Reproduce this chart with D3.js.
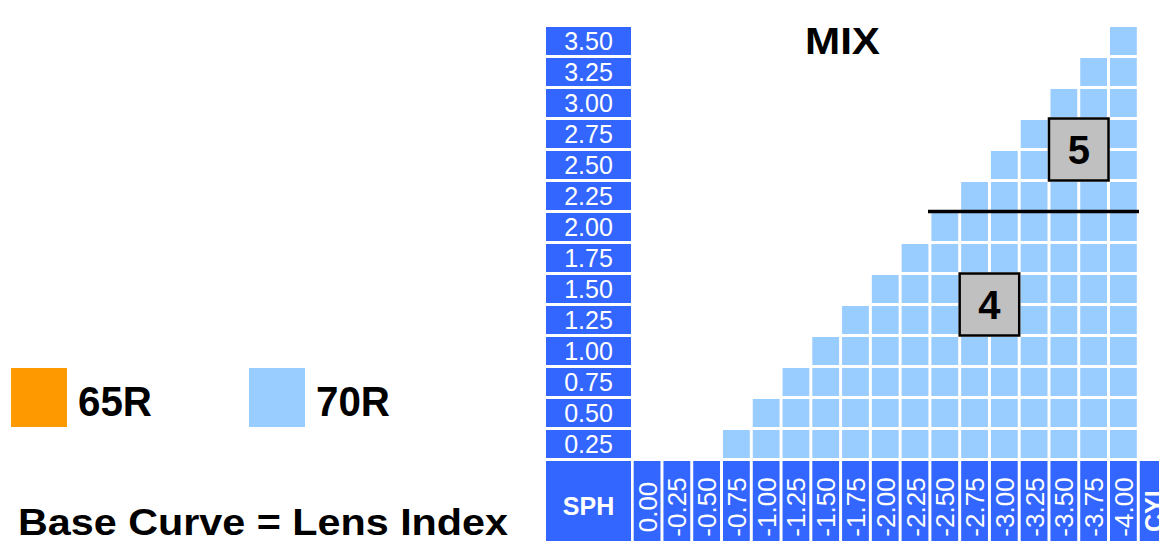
<!DOCTYPE html>
<html><head><meta charset="utf-8">
<script src="https://cdn.jsdelivr.net/npm/d3@7"></script>
<style>
body{margin:0;background:#fff;overflow:hidden;}
svg{display:block;font-family:"Liberation Sans",Arial,Helvetica,sans-serif;}
</style>
</head><body>
<svg id="chart" width="1159" height="541"></svg>
<script>
// ---- data ----
const sphValues = ["3.50","3.25","3.00","2.75","2.50","2.25","2.00","1.75","1.50","1.25","1.00","0.75","0.50","0.25"];
const cylValues = ["0.00","-0.25","-0.50","-0.75","-1.00","-1.25","-1.50","-1.75","-2.00","-2.25","-2.50","-2.75","-3.00","-3.25","-3.50","-3.75","-4.00"];
// first filled CYL column for each SPH row (filled through -4.00)
const rowSph      = ["0.25","0.50","0.75","1.00","1.25","1.50","1.75","2.00","2.25","2.50","2.75","3.00","3.25","3.50"];
const rowFirstCyl = ["-0.75","-1.00","-1.25","-1.50","-1.75","-2.00","-2.25","-2.50","-2.75","-3.00","-3.25","-3.50","-3.75","-4.00"];
const rowSeries   = ["70R","70R","70R","70R","70R","70R","70R","70R","70R","70R","70R","70R","70R","70R"];
const legendSeries = ["65R","70R"];
const legendColors = ["#FF9900","#99CCFF"];
const baseCurveLabels = ["4","5"];
const baseCurveCyl = [["-2.75","-3.00"],["-3.50","-3.75"]];
const baseCurveSph = [["1.50","1.25"],["2.75","2.50"]];
const dividerSph = ["2.25","2.00"];
const dividerCyl = ["-2.50","-4.00"];
const titleText = "MIX";
const footText = "Base Curve = Lens Index";

// ---- drawing ----
const svg = d3.select("#chart");
const labelBlue = "#3366FF";
const color = d3.scaleOrdinal().domain(legendSeries).range(legendColors);

const x = d3.scaleBand().domain([...cylValues, "CYL"])
  .range([632.2, 632.2 + 18 * 29.77]).paddingInner(0.1).paddingOuter(0.05);
const y = d3.scaleBand().domain([...sphValues, "SPH"])
  .range([25.5, 25.5 + 15 * 31]).paddingInner(3 / 31).paddingOuter(1.5 / 31);
const bw = x.bandwidth(), bh = y.bandwidth();

// row label cells
const rowG = svg.append("g");
rowG.selectAll("rect").data(sphValues).join("rect")
  .attr("x", 546).attr("width", 85)
  .attr("y", d => y(d)).attr("height", bh).attr("fill", labelBlue);
rowG.selectAll("text").data(sphValues).join("text")
  .attr("x", 588.5).attr("y", d => y(d) + bh / 2 + 9)
  .attr("text-anchor", "middle").attr("fill", "#fff").attr("font-size", 25)
  .text(d => d);

// header row
const hy = y("SPH"), hh = 80;
svg.append("rect").attr("x", 546).attr("width", 85).attr("y", hy).attr("height", hh).attr("fill", labelBlue);
svg.append("text").attr("x", 588.5).attr("y", 515).attr("text-anchor", "middle")
  .attr("fill", "#fff").attr("font-size", 25).attr("font-weight", "bold").text("SPH");

const colG = svg.append("g");
const colKeys = [...cylValues, "CYL"];
colG.selectAll("rect").data(colKeys).join("rect")
  .attr("x", d => x(d)).attr("width", d => d === "CYL" ? 40 : bw)
  .attr("y", hy).attr("height", hh).attr("fill", labelBlue);
colG.selectAll("text").data(colKeys).join("text")
  .attr("transform", d => `translate(${x(d) + bw / 2 + 9.5},507) rotate(-90)`)
  .attr("text-anchor", "middle").attr("fill", "#fff")
  .attr("font-size", d => d === "CYL" ? 25 : 26)
  .attr("font-weight", d => d === "CYL" ? "bold" : "normal")
  .text(d => d);

// data cells
const cells = [];
rowSph.forEach((s, i) => {
  const start = cylValues.indexOf(rowFirstCyl[i]);
  cylValues.forEach((c, j) => { if (j >= start) cells.push({sph: s, cyl: c, series: rowSeries[i]}); });
});
svg.append("g").selectAll("rect").data(cells).join("rect")
  .attr("x", d => x(d.cyl)).attr("y", d => y(d.sph))
  .attr("width", bw).attr("height", bh).attr("fill", d => color(d.series));

// divider line
const ly = (y(dividerSph[0]) + bh + y(dividerSph[1])) / 2;
svg.append("line")
  .attr("x1", x(dividerCyl[0]) - 3.4).attr("x2", x(dividerCyl[1]) + bw + 2.2)
  .attr("y1", ly).attr("y2", ly).attr("stroke", "#000").attr("stroke-width", 3.5);

// base curve boxes
const boxes = baseCurveLabels.map((l, i) => ({label: l, cyl: baseCurveCyl[i], sph: baseCurveSph[i]}));
const bg = svg.append("g").selectAll("g").data(boxes).join("g");
bg.append("rect")
  .attr("x", d => x(d.cyl[0]) - 1.5).attr("y", d => y(d.sph[0]) - 1.5)
  .attr("width", d => x(d.cyl[1]) + bw - x(d.cyl[0]) + 3)
  .attr("height", d => y(d.sph[1]) + bh - y(d.sph[0]) + 3)
  .attr("fill", "#C0C0C0").attr("stroke", "#000").attr("stroke-width", 2.5);
bg.append("text")
  .attr("x", d => (x(d.cyl[0]) + x(d.cyl[1]) + bw) / 2)
  .attr("y", d => (y(d.sph[0]) + y(d.sph[1]) + bh) / 2 + 14.5)
  .attr("text-anchor", "middle").attr("font-size", 40).attr("font-weight", "bold").attr("fill", "#000")
  .text(d => d.label);

// title
svg.append("text").attr("x", 805).attr("y", 54).attr("font-size", 37).attr("font-weight", "bold")
  .attr("textLength", 75).attr("lengthAdjust", "spacingAndGlyphs").text(titleText);

// legend
const legX = [11, 249];
const lg = svg.append("g").selectAll("g").data(legendSeries).join("g");
lg.append("rect").attr("x", (d, i) => legX[i]).attr("y", 368).attr("width", 56).attr("height", 59)
  .attr("fill", d => color(d));
lg.append("text").attr("x", (d, i) => legX[i] + 67).attr("y", 416)
  .attr("font-size", 42).attr("font-weight", "bold")
  .attr("textLength", 74).attr("lengthAdjust", "spacingAndGlyphs").text(d => d);

// footer
svg.append("text").attr("x", 18).attr("y", 535).attr("font-size", 36).attr("font-weight", "bold")
  .attr("textLength", 490).attr("lengthAdjust", "spacingAndGlyphs").text(footText);
</script>
</body></html>
